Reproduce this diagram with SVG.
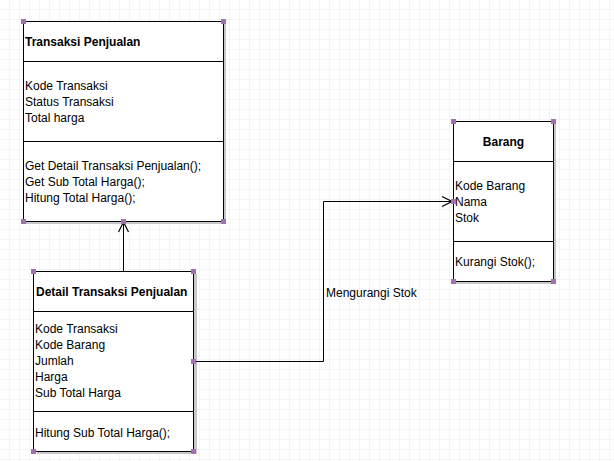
<svg xmlns="http://www.w3.org/2000/svg" width="614" height="461" viewBox="0 0 614 461">
<defs>
<pattern id="g" width="10" height="10" patternUnits="userSpaceOnUse"><path d="M10 0V10H0" fill="none" stroke="#ebebeb" stroke-width="1"/></pattern>
<marker id="a" markerWidth="12" markerHeight="12" refX="11" refY="6" orient="auto" markerUnits="userSpaceOnUse"><path d="M1 1L11 6L1 11" fill="none" stroke="#000" stroke-width="1.2"/></marker>
</defs>
<style>
.box{fill:#fff;stroke:#000;stroke-width:1}
.sh{fill:#c8c8c8}
.ln{stroke:#000;stroke-width:1}
.h{fill:#a070b0}
text{font-family:"Liberation Sans",Arial,sans-serif;font-size:12px;fill:#000}
.b{font-weight:bold}
</style>
<rect width="614" height="461" fill="#fff"/>
<rect width="614" height="461" fill="url(#g)"/>
<g id="n1">
<rect class="sh" x="26" y="24" width="200" height="200"/>
<rect class="box" x="23.5" y="21.5" width="200" height="200"/>
<line class="ln" x1="23.5" y1="61.5" x2="223.5" y2="61.5"/>
<line class="ln" x1="23.5" y1="141.5" x2="223.5" y2="141.5"/>
<text class="b" x="25" y="46">Transaksi Penjualan</text>
<text x="25" y="90">Kode Transaksi</text>
<text x="25" y="106">Status Transaksi</text>
<text x="25" y="122">Total harga</text>
<text x="25" y="170">Get Detail Transaksi Penjualan();</text>
<text x="25" y="186">Get Sub Total Harga();</text>
<text x="25" y="202">Hitung Total Harga();</text>
</g>
<g id="n2">
<rect class="sh" x="37" y="274" width="160" height="180"/>
<rect class="box" x="33.5" y="271.5" width="160" height="180"/>
<line class="ln" x1="33.5" y1="311.5" x2="193.5" y2="311.5"/>
<line class="ln" x1="33.5" y1="411.5" x2="193.5" y2="411.5"/>
<text class="b" x="36" y="296">Detail Transaksi Penjualan</text>
<text x="35" y="333">Kode Transaksi</text>
<text x="35" y="349">Kode Barang</text>
<text x="35" y="365">Jumlah</text>
<text x="35" y="381">Harga</text>
<text x="35" y="397">Sub Total Harga</text>
<text x="35" y="437">Hitung Sub Total Harga();</text>
</g>
<g id="n3">
<rect class="sh" x="456" y="124" width="100" height="160"/>
<rect class="box" x="453.5" y="121.5" width="100" height="160"/>
<line class="ln" x1="453.5" y1="161.5" x2="553.5" y2="161.5"/>
<line class="ln" x1="453.5" y1="241.5" x2="553.5" y2="241.5"/>
<text class="b" x="503.5" y="146" text-anchor="middle">Barang</text>
<text x="455" y="190">Kode Barang</text>
<text x="455" y="206">Nama</text>
<text x="455" y="222">Stok</text>
<text x="455" y="266">Kurangi Stok();</text>
</g>
<g id="connectors" fill="none">
<path class="ln" d="M123.5 271V222" marker-end="url(#a)"/>
<path class="ln" d="M194 361.5H323.5V201.5H452" marker-end="url(#a)"/>
<text x="326" y="297">Mengurangi Stok</text>
</g>
<g id="handles">
<rect class="h" x="21" y="19" width="5" height="5"/><rect class="h" x="221" y="19" width="5" height="5"/>
<rect class="h" x="21" y="219" width="5" height="5"/><rect class="h" x="221" y="219" width="5" height="5"/>
<rect class="h" x="121" y="219" width="5" height="5"/>
<rect class="h" x="31" y="269" width="5" height="5"/><rect class="h" x="191" y="269" width="5" height="5"/>
<rect class="h" x="31" y="449" width="5" height="5"/><rect class="h" x="191" y="449" width="5" height="5"/>
<rect class="h" x="191" y="359" width="5" height="5"/>
<rect class="h" x="451" y="119" width="5" height="5"/><rect class="h" x="551" y="119" width="5" height="5"/>
<rect class="h" x="451" y="279" width="5" height="5"/><rect class="h" x="551" y="279" width="5" height="5"/>
<rect class="h" x="451" y="199" width="5" height="5"/>
</g>
</svg>
